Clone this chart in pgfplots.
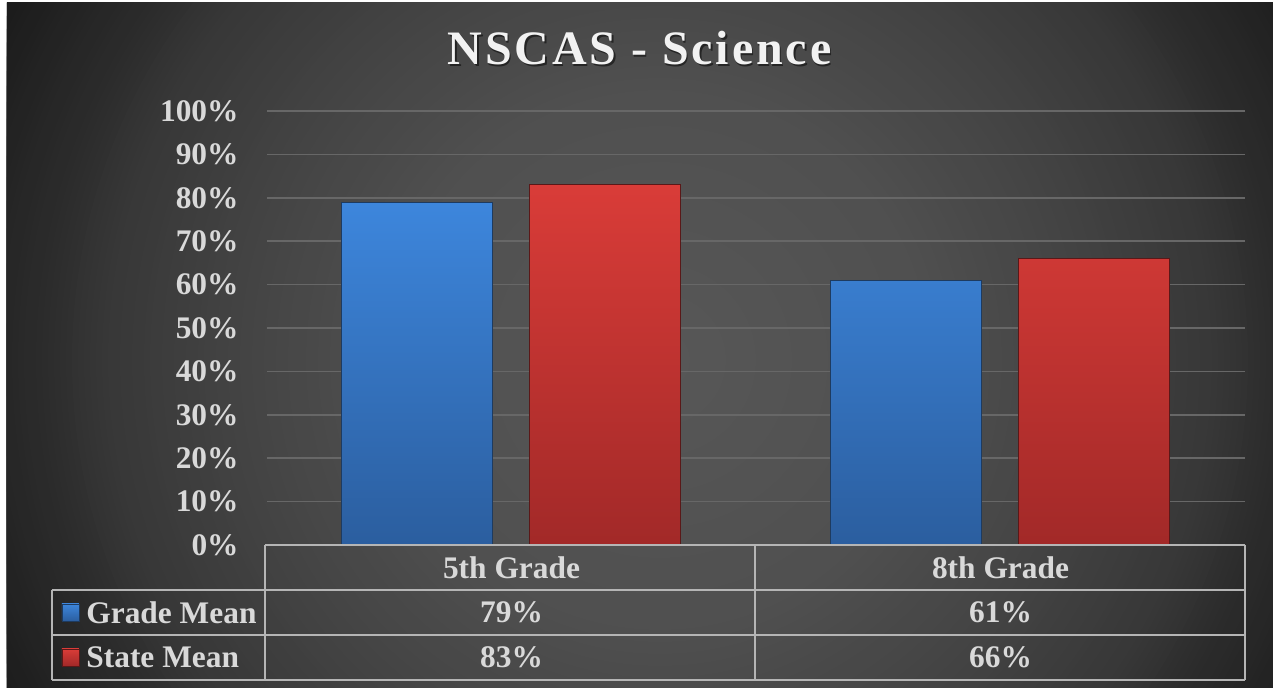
\documentclass[border=0pt]{standalone}
\usepackage{pgfplots}
\pgfplotsset{compat=1.18}
\usepackage{fontspec}
\setmainfont{Liberation Serif}
\definecolor{gridc}{HTML}{676767}
\definecolor{txt}{HTML}{D9D9D9}
\definecolor{ttl}{HTML}{F2F2F2}
\definecolor{tline}{HTML}{B5B5B5}
\definecolor{blueTop}{HTML}{3D86DC}
\definecolor{blueBot}{HTML}{2B5E9F}
\definecolor{blueEdge}{HTML}{1E3B60}
\definecolor{redTop}{HTML}{D93C38}
\definecolor{redBot}{HTML}{A22928}
\definecolor{redEdge}{HTML}{5A1818}
\begin{document}
\begin{tikzpicture}
\useasboundingbox (-133.5pt,-72pt) rectangle (503pt,272.5pt);
\fill[white] (-133.5pt,-72pt) rectangle (503pt,272.5pt);
\begin{scope}
\clip (-130pt,-71.5pt) rectangle (503pt,271pt);
\foreach \r in {375,372,...,0} {
  \pgfmathtruncatemacro\g{\r<=135 ? 88-8*\r/135 : (\r<=212 ? 80-12*(\r-135)/77 : (\r<=277 ? 68-12*(\r-212)/65 : (\r<=311 ? 56-12*(\r-277)/34 : (\r<=330 ? 44-5*(\r-311)/19 : 39-11*(\r-330)/42))))}
  \definecolor{bgtmp}{RGB}{\g,\g,\g}
  \fill[bgtmp] (196.5pt,92.5pt) circle (\r pt);
}
\end{scope}
\begin{axis}[
  at={(0pt,0pt)}, anchor=south west,
  scale only axis, width=489pt, height=217pt,
  xmin=-0.5, xmax=1.5, ymin=0, ymax=100,
  axis line style={draw=none},
  xtick=\empty,
  ytick={0,10,...,100},
  yticklabel={\pgfmathprintnumber{\tick}\%},
  /pgf/number format/assume math mode=true,
  major tick length=0pt,
  ytick style={draw=none},
  yticklabel style={anchor=east, inner sep=0pt, xshift=-14pt, text=txt, font=\fontsize{15.7pt}{18pt}\selectfont\bfseries},
  ymajorgrids,
  major grid style={draw=gridc, line width=0.8pt},
  clip=false,
]
\addplot[ybar, bar width=75.5pt, bar shift=-47.25pt, draw=blueEdge, line width=0.5pt, top color=blueTop, bottom color=blueBot] coordinates {(0,79) (1,61)};
\addplot[ybar, bar width=75.5pt, bar shift=46.5pt, draw=redEdge, line width=0.5pt, top color=redTop, bottom color=redBot] coordinates {(0,83) (1,66)};
\end{axis}
% data table
\begin{scope}[line width=1pt]
\draw[tline] (-1pt,0pt) -- (489pt,0pt);
\draw[tline] (-107.5pt,-22.5pt) -- (489pt,-22.5pt);
\draw[tline] (-107.5pt,-45pt) -- (489pt,-45pt);
\draw[tline] (-107.5pt,-67.5pt) -- (489pt,-67.5pt);
\draw[tline] (-107.5pt,-22.5pt) -- (-107.5pt,-67.5pt);
\draw[tline] (-1pt,0pt) -- (-1pt,-67.5pt);
\draw[tline] (244pt,0pt) -- (244pt,-67.5pt);
\draw[tline] (489pt,0pt) -- (489pt,-67.5pt);
\end{scope}
\begin{scope}[every node/.style={text=txt, font=\fontsize{15.7pt}{18pt}\selectfont\bfseries, inner sep=0pt}]
\node at (122.25pt,-11.25pt) {5th Grade};
\node at (366.75pt,-11.25pt) {8th Grade};
\node at (122.25pt,-33.75pt) {79\%};
\node at (366.75pt,-33.75pt) {61\%};
\node at (122.25pt,-56.25pt) {83\%};
\node at (366.75pt,-56.25pt) {66\%};
\node[anchor=west] at (-90.5pt,-33.75pt) {Grade Mean};
\node[anchor=west] at (-90.5pt,-56.25pt) {State Mean};
\end{scope}
\shade[top color=blueTop, bottom color=blueBot, draw=blueEdge, line width=0.4pt] (-102.5pt,-29.5pt) rectangle (-94pt,-38pt);
\shade[top color=redTop, bottom color=redBot, draw=redEdge, line width=0.4pt] (-102.5pt,-52pt) rectangle (-94pt,-60.5pt);
% title
\node[anchor=base, inner sep=0pt, text=black, opacity=0.5, font=\fontsize{24pt}{28pt}\selectfont\bfseries\addfontfeatures{LetterSpace=6}] at (187pt,239.3pt) {NSCAS - Science};
\node[anchor=base, inner sep=0pt, text=ttl, font=\fontsize{24pt}{28pt}\selectfont\bfseries\addfontfeatures{LetterSpace=6}] at (186.25pt,240pt) {NSCAS - Science};
\end{tikzpicture}
\end{document}
